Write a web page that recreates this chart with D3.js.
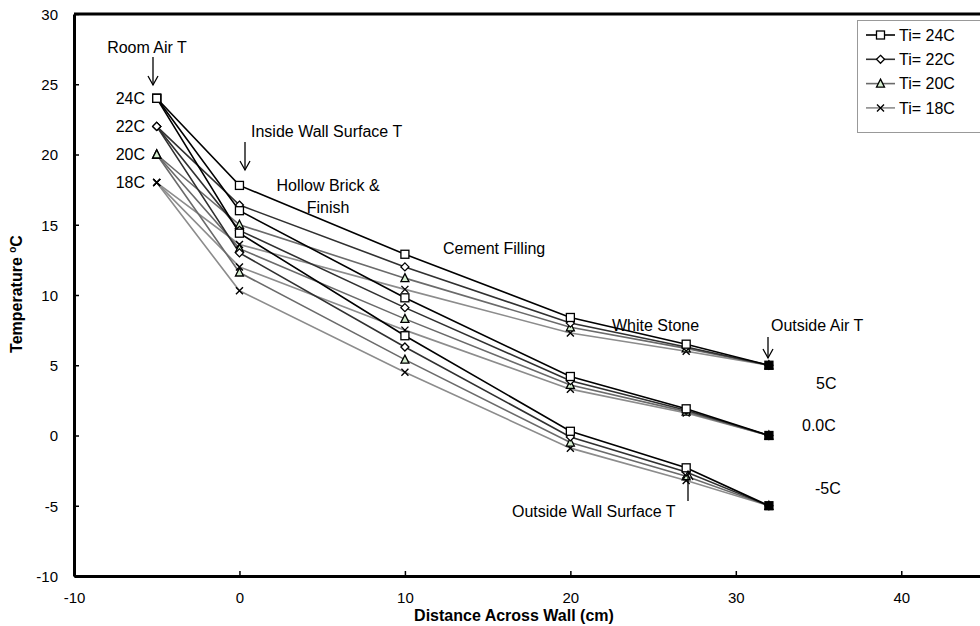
<!DOCTYPE html>
<html><head><meta charset="utf-8">
<script src="https://cdn.jsdelivr.net/npm/d3@7"></script>
<style>body{margin:0;background:#fff}svg{display:block}text{font-family:"Liberation Sans",Arial,sans-serif}</style>
</head><body><svg id="c" width="980" height="626"></svg>
<script>
// Distances across wall (cm)
const distances = [-5, 0, 10, 20, 27, 32];
const seriesNames = ["Ti= 24C", "Ti= 22C", "Ti= 20C", "Ti= 18C"];
// Outside air 5C: rows Ti=24,22,20,18
const outside5C = [
  [24, 17.8, 12.9, 8.4, 6.5, 5],
  [22, 16.4, 12.0, 8.0, 6.3, 5],
  [20, 15.0, 11.2, 7.7, 6.2, 5],
  [18, 13.6, 10.4, 7.3, 6.0, 5]
];
// Outside air 0C
const outside0C = [
  [24, 16.0, 9.8, 4.2, 1.9, 0],
  [22, 14.6, 9.1, 3.9, 1.8, 0],
  [20, 13.3, 8.3, 3.6, 1.7, 0],
  [18, 12.0, 7.5, 3.3, 1.6, 0]
];
// Outside air -5C
const outsideMinus5C = [
  [24, 14.4, 7.1, 0.3, -2.3, -5],
  [22, 13.0, 6.3, -0.1, -2.6, -5],
  [20, 11.6, 5.4, -0.5, -2.9, -5],
  [18, 10.3, 4.5, -0.9, -3.2, -5]
];
const xTicks = [-10, 0, 10, 20, 30, 40];
const yTicks = [-10, -5, 0, 5, 10, 15, 20, 25, 30];
const roomLabels = ["24C", "22C", "20C", "18C"];

const lineColors = ["#000000", "#303030", "#6a6a6a", "#8c8c8c"];
const markerTypes = ["square", "diamond", "triangle", "cross"];
const FS = 16;

const svg = d3.select("#c");
const x = d3.scaleLinear().domain([-10, 45]).range([74, 984]);
const y = d3.scaleLinear().domain([-10, 30]).range([576, 14]);
const fmt = d => String(d);

// axes
const xAxis = d3.axisBottom(x).tickValues(xTicks).tickFormat(fmt).tickSizeInner(-5).tickSizeOuter(0).tickPadding(16);
const yAxis = d3.axisLeft(y).tickValues(yTicks).tickFormat(fmt).tickSizeInner(-5).tickSizeOuter(0).tickPadding(16);
const gx = svg.append("g").attr("transform", `translate(0,${y(-10)})`).call(xAxis);
const gy = svg.append("g").attr("transform", `translate(${x(-10)},0)`).call(yAxis);
[gx, gy].forEach(g => {
  g.select(".domain").attr("stroke", "#000").attr("stroke-width", 3);
  g.selectAll(".tick line").attr("stroke", "#000").attr("stroke-width", 1.5);
  g.selectAll(".tick text").attr("font-size", 15).attr("fill", "#000").attr("font-family", "Liberation Sans, Arial, sans-serif");
});
gy.selectAll(".tick text").attr("dy", "0.35em");
// top border
svg.append("line").attr("x1", x(-10)).attr("x2", 980).attr("y1", y(30)).attr("y2", y(30))
  .attr("stroke", "#000").attr("stroke-width", 3);

// axis titles
svg.append("text").attr("x", 514).attr("y", 621).attr("text-anchor", "middle")
  .attr("font-size", 16).attr("font-weight", "bold").text("Distance Across Wall (cm)");
const yt = svg.append("text").attr("transform", "translate(22,294) rotate(-90)").attr("text-anchor", "middle")
  .attr("font-size", 16).attr("font-weight", "bold");
yt.append("tspan").text("Temperature ");
yt.append("tspan").attr("dy", -6).attr("font-size", 10).text("o");
yt.append("tspan").attr("dy", 6).text("C");

function drawMarker(g, type, cx, cy, filled) {
  const fill = filled ? "#000" : "#fff";
  if (type === "square") {
    g.append("rect").attr("x", cx - 4).attr("y", cy - 4).attr("width", 8).attr("height", 8)
      .attr("fill", fill).attr("stroke", "#000").attr("stroke-width", 1.3);
  } else if (type === "diamond") {
    g.append("path").attr("d", `M${cx},${cy-4}L${cx+4},${cy}L${cx},${cy+4}L${cx-4},${cy}Z`)
      .attr("fill", fill).attr("stroke", "#000").attr("stroke-width", 1.3);
  } else if (type === "triangle") {
    g.append("path").attr("d", `M${cx},${cy-4.5}L${cx+4},${cy+3.5}L${cx-4},${cy+3.5}Z`)
      .attr("fill", filled ? "#000" : "#d6efd0").attr("stroke", "#000").attr("stroke-width", 1.3);
  } else {
    g.append("path").attr("d", `M${cx-3.5},${cy-3.5}L${cx+3.5},${cy+3.5}M${cx-3.5},${cy+3.5}L${cx+3.5},${cy-3.5}`)
      .attr("fill", "none").attr("stroke", "#000").attr("stroke-width", 1.4);
  }
}

const line = d3.line().x(d => x(d[0])).y(d => y(d[1]));
const groups = [outside5C, outside0C, outsideMinus5C];
const linesG = svg.append("g");
const markG = svg.append("g");
// draw lighter series first so black on top
for (let s = 3; s >= 0; s--) {
  groups.forEach(grp => {
    const pts = distances.map((d, i) => [d, grp[s][i]]);
    linesG.append("path").datum(pts).attr("d", line).attr("fill", "none")
      .attr("stroke", lineColors[s]).attr("stroke-width", 1.6);
  });
}
for (let s = 3; s >= 0; s--) {
  groups.forEach(grp => {
    // at the outside-air end all four markers coincide and read as a solid black block
    distances.forEach((d, i) => drawMarker(markG, markerTypes[s], x(d), y(grp[s][i]), i === distances.length - 1));
  });
}

// legend
const lg = svg.append("g");
lg.append("rect").attr("x", 857.5).attr("y", 20.5).attr("width", 140).attr("height", 112)
  .attr("fill", "#fff").attr("stroke", "#999").attr("stroke-width", 1);
seriesNames.forEach((n, i) => {
  const ly = 35 + i * 24.3;
  lg.append("line").attr("x1", 866).attr("x2", 895).attr("y1", ly).attr("y2", ly)
    .attr("stroke", lineColors[i]).attr("stroke-width", 1.6);
  drawMarker(lg, markerTypes[i], 880.5, ly, false);
  lg.append("text").attr("x", 899).attr("y", ly).attr("dy", "0.35em").attr("font-size", FS).text(n);
});

// annotations
function label(t, px, py, anchor) {
  svg.append("text").attr("x", px).attr("y", py).attr("dy", "0.35em").attr("font-size", FS)
    .attr("text-anchor", anchor || "start").text(t);
}
function arrow(px, y1, y2) {
  svg.append("line").attr("x1", px).attr("x2", px).attr("y1", y1).attr("y2", y2).attr("stroke", "#000").attr("stroke-width", 1.3);
  const d = y2 > y1 ? -1 : 1;
  svg.append("path").attr("d", `M${px-5},${y2 + d*9}L${px},${y2}L${px+5},${y2 + d*9}`)
    .attr("fill", "none").attr("stroke", "#000").attr("stroke-width", 1.3);
}
label("Room Air T", 147, 47, "middle");
arrow(153, 57, 85);
roomLabels.forEach((t, i) => label(t, 145, y(outside5C[i][0]), "end"));
label("Inside Wall Surface T", 251, 131);
arrow(245, 142, 170);
label("Hollow Brick &", 328, 185, "middle");
label("Finish", 328, 207, "middle");
label("Cement Filling", 443, 248);
label("White Stone", 612, 325);
label("Outside Air T", 771, 325);
arrow(768, 337, 358);
label("5C", 816, 383);
label("0.0C", 802, 425);
label("-5C", 815, 488);
label("Outside Wall Surface T", 512, 511);
arrow(688, 501, 471);
</script></body></html>
